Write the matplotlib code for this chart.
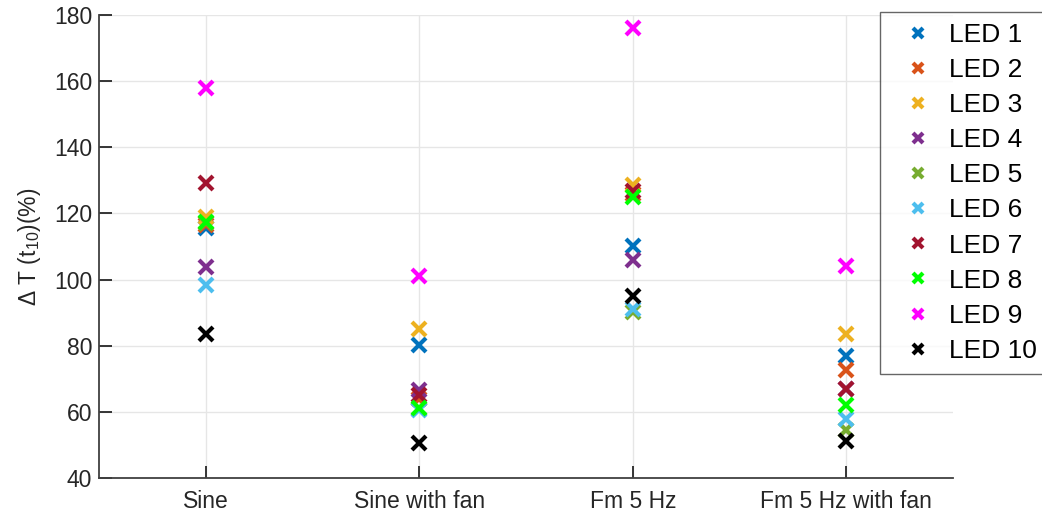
import numpy as np
import matplotlib.pyplot as plt

plt.rcParams['font.family'] = ['Liberation Sans', 'DejaVu Sans']
plt.rcParams['mathtext.fontset'] = 'custom'
plt.rcParams['mathtext.rm'] = 'Liberation Sans'
plt.rcParams['mathtext.it'] = 'Liberation Sans'

conditions = ['Sine', 'Sine with fan', 'Fm 5 Hz', 'Fm 5 Hz with fan']
led_names = ['LED %d' % i for i in range(1, 11)]

# temperature rise per LED at t10 (%), one value per condition
led1 = [115.5, 80.3, 110.0, 77.0]
led2 = [116.5, 64.0, 126.0, 72.7]
led3 = [119.0, 85.2, 128.5, 83.5]
led4 = [103.7, 66.5, 106.0, 67.0]
led5 = [117.0, 61.0, 90.2, 54.5]
led6 = [98.5, 60.5, 91.2, 57.8]
led7 = [129.2, 65.0, 126.8, 66.9]
led8 = [117.5, 61.2, 125.0, 62.2]
led9 = [157.8, 101.2, 176.0, 104.2]
led10 = [83.6, 50.7, 95.0, 51.3]
values = [led1, led2, led3, led4, led5, led6, led7, led8, led9, led10]

colors = ['#0072BD', '#D95319', '#EDB120', '#7E2F8E', '#77AC30',
          '#4DBEEE', '#A2142F', '#00FF00', '#FF00FF', '#000000']

fig = plt.figure(figsize=(10.42, 5.17), dpi=100)
ax = fig.add_axes([99/1042, 1 - 478/517, (953 - 99)/1042, (478 - 15)/517])

x = np.arange(1, len(conditions) + 1)
for name, vals, c in zip(led_names, values, colors):
    ax.plot(x, vals, linestyle='none', marker='x', markersize=10,
            markeredgewidth=3, color=c, label=name)

ax.set_xlim(0.5, 4.5)
ax.set_ylim(40, 180)
ax.set_xticks(x)
ax.set_xticklabels(conditions)
ax.set_yticks(np.arange(40, 181, 20))
ax.grid(True, color='#e6e6e6', linewidth=1)
ax.set_axisbelow(True)
ax.tick_params(direction='in', length=9, width=1.3, labelsize=16.5,
               colors='#262626', pad=5)
ax.tick_params(axis='x', pad=9)
for side in ['top', 'right']:
    ax.spines[side].set_visible(False)
for side in ['left', 'bottom']:
    ax.spines[side].set_color('#404040')
    ax.spines[side].set_linewidth(1.3)

ax.set_ylabel('\u0394 T (t$_{10}$)(%)', fontsize=16.5, color='#262626', labelpad=8)

leg = fig.legend(loc='upper left', bbox_to_anchor=(880/1042, 1 - 12/517),
                 fontsize=19, frameon=True, fancybox=False, borderpad=0.42,
                 labelspacing=0.42, handletextpad=0.15, handlelength=2.04,
                 markerscale=0.65, borderaxespad=0)
leg.get_frame().set_edgecolor('#404040')
leg.get_frame().set_linewidth(1.0)

fig.savefig('out.png', dpi=100)
